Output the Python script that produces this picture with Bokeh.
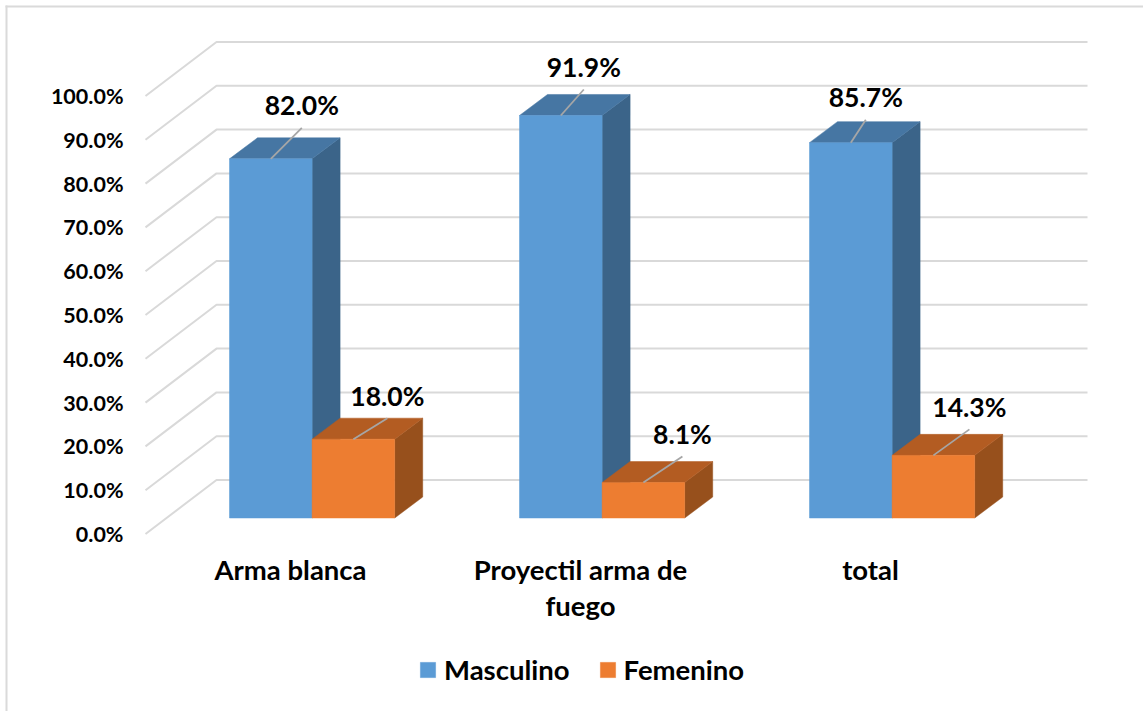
from bokeh.plotting import figure
from bokeh.embed import file_html
from bokeh.resources import INLINE
from bokeh.models import BoxAnnotation, FixedTicker, Legend, LegendItem, Range1d
from bokeh.core.properties import value

categories = ["Arma blanca", "Proyectil arma de\nfuego", "total"]
masculino = [82.0, 91.9, 85.7]
femenino = [18.0, 8.1, 14.3]
y_ticks = [0, 10, 20, 30, 40, 50, 60, 70, 80, 90, 100]
y_labels = ["0.0%", "10.0%", "20.0%", "30.0%", "40.0%", "50.0%", "60.0%", "70.0%", "80.0%", "90.0%", "100.0%"]

FONT = "Lato"
PX_X, PX_Y = 290.0, 4.38          # pixels per category / per percent
X0, Y0 = 145, 533.5               # page position of the axes' zero corner
W, H = 1143, 711
GRID_R = 1087                     # right end of the back wall
WALL = (71, 54)                   # depth of the floor
GAP = (21, 16)                    # front of floor to front of bars
DEPTH = (28, 21)                  # depth of a bar
BAR_LEFT, BAR_W = 63, 82.6        # px within a category, before depth shift
GRID = "#D9D9D9"
LEAD = "#A6A6A6"
COLORS = {"Masculino": ("#5B9BD5", "#3B6489", "#4676A3"),
          "Femenino": ("#ED7D31", "#97501C", "#B35C22")}
# label centres relative to the middle of the bar's top front edge, in px
OFFSETS = {"Masculino": [(31, -52), (23, -47), (15, -44)],
           "Femenino": [(34, -42), (39, -47), (36, -47)]}

p = figure(width=W, height=H, output_backend="svg", toolbar_location=None,
           x_range=Range1d(-X0 / PX_X, (W - X0) / PX_X),
           y_range=Range1d(-(H - Y0) / PX_Y, Y0 / PX_Y),
           min_border=0)
p.outline_line_color = None
p.background_fill_color = "white"
p.xgrid.visible = False
p.ygrid.visible = False

dx = lambda px: px / PX_X
dy = lambda px: px / PX_Y
right_end = (GRID_R - X0) / PX_X

for box in (dict(left=5, right=7, top=5, bottom=H), dict(left=5, right=W, top=5, bottom=7)):
    p.add_layout(BoxAnnotation(left_units="canvas", right_units="canvas", top_units="canvas",
                               bottom_units="canvas", fill_color="#DADADA", fill_alpha=1,
                               line_color=None, **box))

# wall and floor grid
for t in y_ticks:
    p.line([0, dx(WALL[0]), right_end], [t, t + dy(WALL[1]), t + dy(WALL[1])],
           line_color=GRID, line_width=2)

legend_items = []
for name, vals, slot in (("Masculino", masculino, 0), ("Femenino", femenino, 1)):
    front_c, side_c, top_c = COLORS[name]
    x0 = [i + dx(GAP[0] + BAR_LEFT + slot * BAR_W) for i in range(3)]
    x1 = [x + dx(BAR_W) for x in x0]
    y0 = dy(GAP[1])
    ddx, ddy = dx(DEPTH[0]), dy(DEPTH[1])
    side_x = [[b, b + ddx, b + ddx, b] for b in x1]
    side_y = [[y0, y0 + ddy, v + y0 + ddy, v + y0] for v in vals]
    top_x = [[a, a + ddx, b + ddx, b] for a, b in zip(x0, x1)]
    top_y = [[v + y0, v + y0 + ddy, v + y0 + ddy, v + y0] for v in vals]
    p.patches(side_x, side_y, fill_color=side_c, line_color=side_c, line_width=0.5)
    p.patches(top_x, top_y, fill_color=top_c, line_color=top_c, line_width=0.5)
    r = p.quad(left=x0, right=x1, bottom=[y0] * 3, top=[v + y0 for v in vals],
               fill_color=front_c, line_color=front_c, line_width=0.5)
    legend_items.append(LegendItem(label=name, renderers=[r]))
    # data labels with leader lines
    cx = [(a + b) / 2 for a, b in zip(x0, x1)]
    lx = [c + dx(o[0]) for c, o in zip(cx, OFFSETS[name])]
    ly = [v + y0 - dy(o[1]) for v, o in zip(vals, OFFSETS[name])]
    p.segment(cx, [v + y0 for v in vals], lx, [y - dy(21) for y in ly],
              line_color=LEAD, line_width=1.8)
    p.text(lx, ly, text=[f"{v:.1f}%" for v in vals], text_align="center", text_baseline="middle",
           y_offset=-1.5, text_font=value(FONT), text_font_style="bold",
           text_font_size="26.5px", text_color="black")

ya = p.yaxis[0]
ya.fixed_location = 0
ya.ticker = FixedTicker(ticks=y_ticks)
ya.major_label_overrides = dict(zip(y_ticks, y_labels))
ya.major_tick_line_color = None
ya.minor_tick_line_color = None
ya.axis_line_color = None
ya.major_label_standoff = 16
ya.major_label_text_font = FONT
ya.major_label_text_font_style = "bold"
ya.major_label_text_font_size = "21.5px"
ya.major_label_text_color = "black"

xa = p.xaxis[0]
xa.fixed_location = 0
ticks = [0.5, 1.5, 2.5]
xa.ticker = FixedTicker(ticks=ticks)
xa.major_label_overrides = dict(zip(ticks, categories))
xa.major_tick_line_color = None
xa.minor_tick_line_color = None
xa.axis_line_color = None
xa.major_label_standoff = 13
xa.major_label_text_font = FONT
xa.major_label_text_font_style = "bold"
xa.major_label_text_font_size = "27.5px"
xa.major_label_text_line_height = 1.1
xa.major_label_text_color = "black"

legend = Legend(items=legend_items, orientation="horizontal", location=(418, 25),
                label_text_font=FONT, label_text_font_style="bold", label_text_font_size="27.5px",
                label_text_color="black", glyph_width=19, glyph_height=19, spacing=28,
                label_standoff=7, padding=0, margin=0, border_line_color=None,
                background_fill_alpha=0)
p.add_layout(legend)

open("out.html", "w").write(file_html(p, INLINE))
